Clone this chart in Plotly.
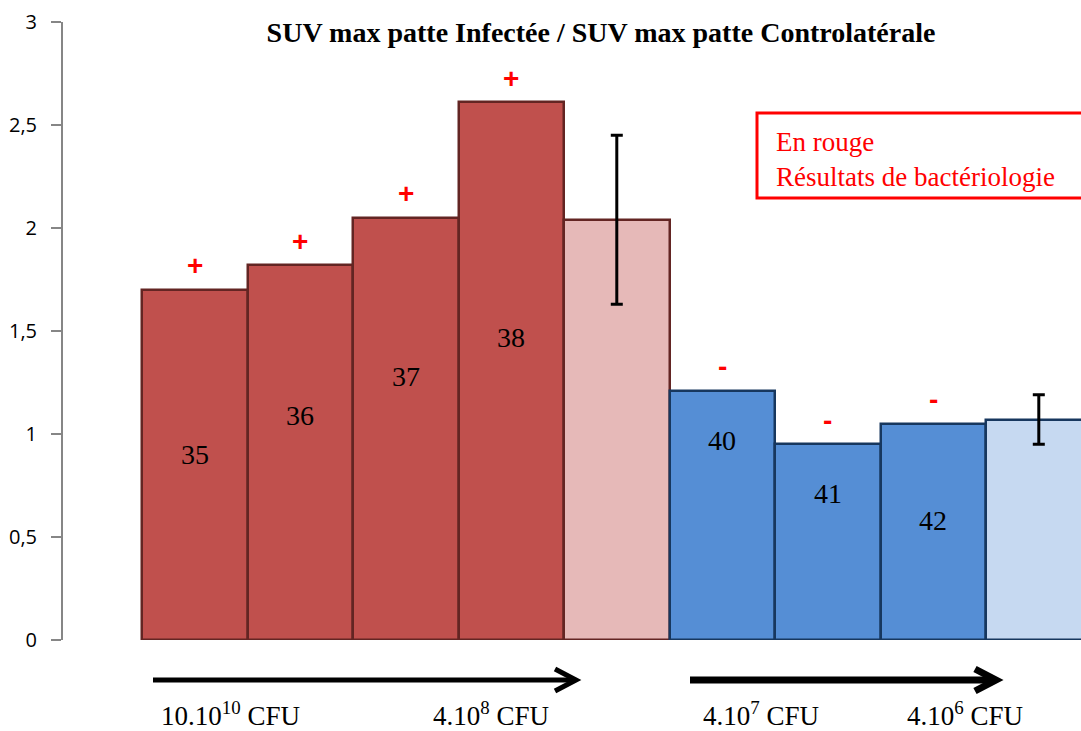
import plotly.graph_objects as go

# values
souris = ["35", "36", "37", "38", "moy_pos", "40", "41", "42", "moy_neg"]
ratio_suv = [1.70, 1.82, 2.05, 2.61, 2.04, 1.21, 0.95, 1.05, 1.07]
bacterio = ["+", "+", "+", "+", "", "-", "-", "-", ""]
moyennes = [4, 8]          # index of the two mean bars
erreur_moy = [0.41, 0.12]
doses = ["10.10<sup>10</sup> CFU", "4.10<sup>8</sup> CFU", "4.10<sup>7</sup> CFU", "4.10<sup>6</sup> CFU"]

# heights where the mouse numbers sit inside the bars
label_y = [0.90, 1.09, 1.28, 1.47, None, 0.97, 0.71, 0.58, None]

fill = ["#C0504D"] * 4 + ["#E6B9B8"] + ["#558ED5"] * 3 + ["#C6D9F1"]
border = ["#632523"] * 5 + ["#17375E"] * 4

W, H = 1081, 731
L, T, B = 63, 22, 91
PW, PH = W - L, H - T - B


def px(x):
    return (x - L) / PW


def py(y):
    return (H - B - y) / PH


x = list(range(len(souris)))

fig = go.Figure()
fig.add_trace(go.Bar(
    x=x, y=ratio_suv,
    marker=dict(color=fill, line=dict(color=border, width=2.5)),
    showlegend=False, hoverinfo="skip",
))
fig.add_trace(go.Scatter(
    x=moyennes, y=[ratio_suv[i] for i in moyennes], mode="markers",
    marker=dict(size=0.1, color="black", opacity=0),
    error_y=dict(type="data", array=erreur_moy, visible=True, color="black", thickness=3, width=6),
    showlegend=False, hoverinfo="skip",
))

for i, nom in enumerate(souris):
    if label_y[i] is not None:
        fig.add_annotation(x=i, y=label_y[i], text=nom, showarrow=False,
                           font=dict(family="Liberation Serif", size=28, color="black"))
    if bacterio[i]:
        fig.add_annotation(x=i, y=ratio_suv[i], yshift=24, text="<b>" + bacterio[i] + "</b>", showarrow=False,
                           font=dict(family="Liberation Sans", size=28, color="#FF0000"))

# legend box
fig.add_shape(type="rect", xref="paper", yref="paper",
              x0=px(757), x1=px(1090), y0=py(198), y1=py(113),
              line=dict(color="#FF0000", width=3), fillcolor="white")
fig.add_annotation(xref="paper", yref="paper", x=px(774), y=py(125), xanchor="left", yanchor="top",
                   align="left", showarrow=False,
                   text="En rouge<br>Résultats de bactériologie",
                   font=dict(family="Liberation Serif", size=27, color="#FF0000"))

# dose arrows under the bars
for x0, x1, w in [(153, 574, 5), (690, 994, 7)]:
    fig.add_shape(type="line", xref="paper", yref="paper",
                  x0=px(x0), x1=px(x1), y0=py(680), y1=py(680),
                  line=dict(color="black", width=w))
    fig.add_shape(type="path", xref="paper", yref="paper",
                  path=f"M {px(x1-19)},{py(669)} L {px(x1+2)},{py(680)} L {px(x1-19)},{py(691)}",
                  line=dict(color="black", width=w))

for txt, cx in zip(doses, [230, 491, 761, 965]):
    fig.add_annotation(xref="paper", yref="paper", x=px(cx), y=py(714), xanchor="center", yanchor="middle",
                       text=txt, showarrow=False,
                       font=dict(family="Liberation Serif", size=27, color="black"))

fig.update_layout(
    width=W, height=H,
    margin=dict(l=L, r=0, t=T, b=B, pad=0, autoexpand=False),
    plot_bgcolor="white", paper_bgcolor="white",
    bargap=0,
    separators=", ",
    title=dict(text="<b>SUV max patte Infectée / SUV max patte Controlatérale</b>",
               x=601 / W, xanchor="center", y=1 - 32 / H, yanchor="middle",
               font=dict(family="Liberation Serif", size=28, color="black")),
)
fig.update_xaxes(range=[-1.249, 8.40], visible=False)
fig.update_yaxes(
    range=[0, 3], tickvals=[0, 0.5, 1, 1.5, 2, 2.5, 3],
    showgrid=False, zeroline=False, automargin=False,
    showline=True, linecolor="#868686", linewidth=2,
    ticks="outside", ticklen=10, tickwidth=2, tickcolor="#868686",
    ticklabelstandoff=10,
    tickfont=dict(family="Open Sans", size=20, color="black"),
)

# page body has a default 8px margin; drop it so the figure fills the window
fig.write_html("out.html", config={"displayModeBar": False},
               post_script="document.body.style.margin='0';")
